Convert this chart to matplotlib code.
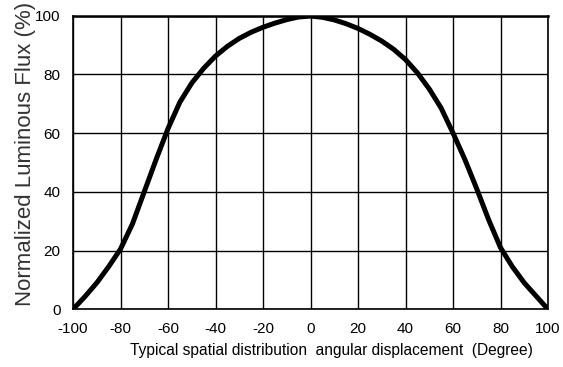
import matplotlib
matplotlib.use("Agg")
import matplotlib.pyplot as plt

# typical spatial distribution
angle = list(range(-100, 101, 5))
flux = [0, 4.3, 9, 14.5, 20.5, 29, 40, 51, 61.5, 70.5, 77, 82, 86.2,
        89.5, 92.2, 94.3, 96, 97.4, 98.6, 99.5, 99.8, 99.4, 98.5, 97.2, 95.6,
        93.6, 91.3, 88.5, 85, 80.5, 75, 68.5, 60, 51, 41, 30.5, 21,
        14.5, 9, 4.5, 0]

x_ticks = list(range(-100, 101, 20))
y_ticks = list(range(0, 101, 20))

plt.rcParams['font.family'] = ['Liberation Sans', 'DejaVu Sans']
plt.rcParams['axes.unicode_minus'] = False

fig = plt.figure(figsize=(5.63, 3.67), dpi=100)
ax = fig.add_axes([73 / 563, 1 - 309.3 / 367, 475 / 563, 293.8 / 367])

ax.plot(angle, flux, color="black", linewidth=3.6, solid_capstyle="round",
        solid_joinstyle="round", zorder=3)

ax.set_xlim(-100, 100)
ax.set_ylim(0, 100)
ax.set_xticks(x_ticks)
ax.set_yticks(y_ticks)
ax.grid(True, color="black", linewidth=1.0)
ax.tick_params(length=0, labelsize=11, pad=9)
for side in ax.spines:
    ax.spines[side].set_linewidth(1.2)
ax.spines["top"].set_linewidth(1.8)

ax.set_xlabel("Typical spatial distribution  angular displacement  (Degree)",
              fontsize=11.2)
ax.xaxis.set_label_coords(0.545, -0.115)
ax.set_ylabel("Normalized Luminous Flux (%)", fontsize=16, color="#333333")
ax.yaxis.set_label_coords(-0.078, 0.53)

fig.savefig("out.png", dpi=100)
